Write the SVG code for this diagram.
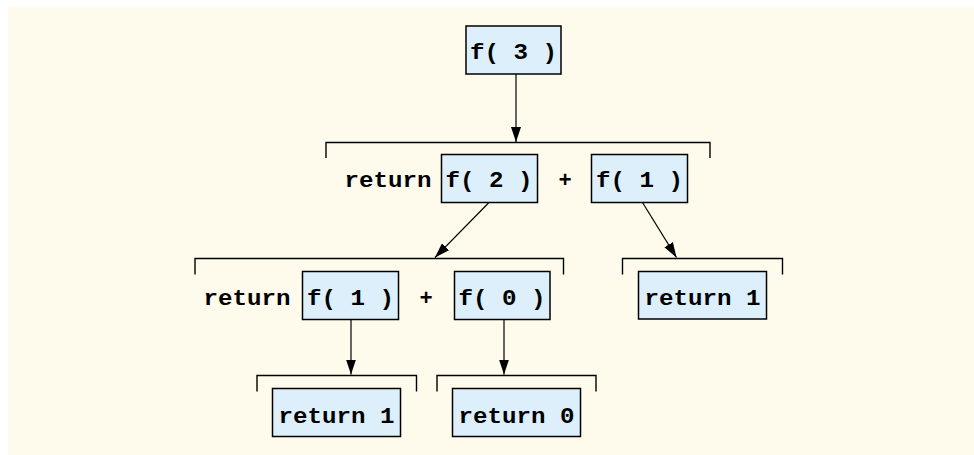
<svg xmlns="http://www.w3.org/2000/svg" width="974" height="455" viewBox="0 0 974 455">
<defs>
<marker id="ah" viewBox="0 0 15 10" refX="15" refY="5" markerWidth="15" markerHeight="10" markerUnits="userSpaceOnUse" orient="auto">
<path d="M0,0 L15,5 L0,10 Z" fill="#000"/>
</marker>
<style>
.box{fill:#DDEFFB;stroke:#000;stroke-width:1.5}
.br{fill:none;stroke:#000;stroke-width:1.4}
.t{font-family:"Liberation Mono","Courier New",monospace;font-weight:bold;font-size:22px;fill:#000;text-anchor:middle}
.c{stroke:#000;stroke-width:1.2;fill:none;marker-end:url(#ah)}
</style>
</defs>
<rect x="0" y="0" width="974" height="455" fill="#fff"/>
<rect x="8" y="7" width="966" height="448" fill="#FEFAEC"/>

<g id="brackets">
<path class="br" d="M326,158 V142.5 H710 V158"/>
<path class="br" d="M195,274.5 V258.5 H563.5 V274.5"/>
<path class="br" d="M622.5,274.5 V258.5 H782.5 V274.5"/>
<path class="br" d="M257,391.5 V375.5 H416.5 V391.5"/>
<path class="br" d="M437,391.5 V375.5 H596 V391.5"/>
</g>

<g id="connectors">
<line class="c" x1="516" y1="74" x2="516" y2="142"/>
<line class="c" x1="488.5" y1="203" x2="435" y2="257.5"/>
<line class="c" x1="642.5" y1="202.5" x2="676.5" y2="257.5"/>
<line class="c" x1="351" y1="319.5" x2="351" y2="374.5"/>
<line class="c" x1="504" y1="319.5" x2="504" y2="374.5"/>
</g>

<g id="f3">
<rect class="box" x="466" y="26" width="95" height="48"/>
<text class="t" x="513.5" y="59" textLength="87" lengthAdjust="spacingAndGlyphs">f( 3 )</text>
</g>

<g id="level2-labels">
<text class="t" x="388" y="187" textLength="87" lengthAdjust="spacingAndGlyphs">return</text>
<text class="t" x="565" y="187">+</text>
</g>
<g id="f2">
<rect class="box" x="441.5" y="154.5" width="96" height="48"/>
<text class="t" x="489" y="187" textLength="87" lengthAdjust="spacingAndGlyphs">f( 2 )</text>
</g>
<g id="f1a">
<rect class="box" x="591.5" y="154.5" width="96" height="48"/>
<text class="t" x="639.5" y="187" textLength="87" lengthAdjust="spacingAndGlyphs">f( 1 )</text>
</g>

<g id="level3-labels">
<text class="t" x="247" y="304.5" textLength="87" lengthAdjust="spacingAndGlyphs">return</text>
<text class="t" x="426" y="304.5">+</text>
</g>
<g id="f1b">
<rect class="box" x="302.5" y="271.5" width="96" height="48"/>
<text class="t" x="350.5" y="304.5" textLength="87" lengthAdjust="spacingAndGlyphs">f( 1 )</text>
</g>
<g id="f0">
<rect class="box" x="454.5" y="271.5" width="95.5" height="48"/>
<text class="t" x="502" y="304.5" textLength="87" lengthAdjust="spacingAndGlyphs">f( 0 )</text>
</g>
<g id="ret1a">
<rect class="box" x="638.5" y="271.5" width="128" height="47.5"/>
<text class="t" x="702.5" y="305" textLength="116" lengthAdjust="spacingAndGlyphs">return 1</text>
</g>

<g id="ret1b">
<rect class="box" x="272.5" y="388.5" width="128" height="48"/>
<text class="t" x="336.5" y="423" textLength="116" lengthAdjust="spacingAndGlyphs">return 1</text>
</g>
<g id="ret0">
<rect class="box" x="452.5" y="388.5" width="128" height="48"/>
<text class="t" x="516.5" y="423" textLength="116" lengthAdjust="spacingAndGlyphs">return 0</text>
</g>
</svg>
